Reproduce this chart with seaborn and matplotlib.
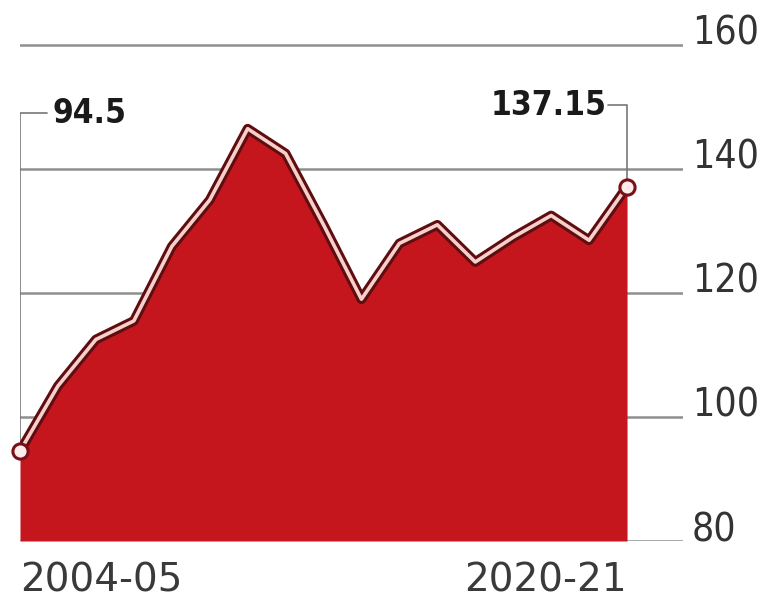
import matplotlib
matplotlib.use('Agg')
import pandas as pd
import matplotlib.pyplot as plt
import seaborn as sns

years = [f'{y}-{str(y + 1)[-2:]}' for y in range(2004, 2021)]
values = [94.5, 105.0, 112.5, 115.5, 127.5, 135.0, 146.5, 142.5, 131.0,
          119.0, 128.0, 131.0, 125.0, 129.0, 132.5, 128.5, 137.15]
y_ticks = [80, 100, 120, 140, 160]
x_labels = ['2004-05', '2020-21']

df = pd.DataFrame({'year': years, 'value': values})
df['idx'] = range(len(df))

sns.set_theme(style='white')
narrow = ['DejaVu Sans']

fig = plt.figure(figsize=(7.64, 6.02), dpi=100)
ax = fig.add_axes([20 / 764, 61 / 602, 663 / 764, 541 / 602])

red = '#c4161c'
dark = '#5e0d10'
grey = '#8f8f8f'

ax.fill_between(df['idx'], df['value'], 80, color=red, lw=0, zorder=2)
sns.lineplot(data=df, x='idx', y='value', color=dark, linewidth=7,
             ax=ax, zorder=3)
sns.lineplot(data=df, x='idx', y='value', color='#f7cfcb', linewidth=2.6,
             ax=ax, zorder=4)

ends = df.iloc[[0, -1]]
ax.scatter(ends['idx'], ends['value'], s=120, facecolor='#fdeceb',
           edgecolor='#7a1016', linewidth=2.2, zorder=5, clip_on=False)

# leader lines and labels for first / last values
first, last = df.iloc[0], df.iloc[-1]
lab_y1, lab_y2 = 149.0, 150.3
ax.plot([first['idx'], first['idx'], first['idx'] + 0.72],
        [first['value'], lab_y1, lab_y1], color='#777777', lw=1.2, zorder=1)
ax.text(first['idx'] + 0.85, lab_y1, f"{first['value']:g}", ha='left', va='center',
        fontsize=24, fontweight='bold', color='#1a1a1a', family=narrow,
        fontstretch='condensed')
ax.plot([last['idx'] - 0.5, last['idx'], last['idx']],
        [lab_y2, lab_y2, last['value']], color='#777777', lw=1.2, zorder=1)
ax.text(last['idx'] - 0.53, lab_y2, f"{last['value']:g}", ha='right', va='center',
        fontsize=24, fontweight='bold', color='#1a1a1a', family=narrow,
        fontstretch='condensed')

ax.set_xlim(0, 663 / 37.94)
ax.set_ylim(80, 80 + 541 / 6.2)

ax.yaxis.tick_right()
ax.set_yticks(y_ticks)
ax.set_yticklabels([str(t) for t in y_ticks], fontsize=28, color='#333333',
                   family=narrow, fontstretch='condensed')
for t in ax.get_yticklabels():
    t.set_verticalalignment('baseline')
ax.tick_params(axis='y', length=0, pad=6.5)

ax.set_xticks([0, len(df) - 1])
ax.set_xticklabels(x_labels, fontsize=28, color='#3a3a3a')
ax.get_xticklabels()[0].set_horizontalalignment('left')
ax.get_xticklabels()[1].set_horizontalalignment('right')
ax.tick_params(axis='x', length=0, pad=15)

ax.yaxis.grid(True, color=grey, linewidth=1.8)
ax.xaxis.grid(False)
ax.set_axisbelow(True)
for s in ax.spines.values():
    s.set_visible(False)
ax.set_xlabel('')
ax.set_ylabel('')
ax.patch.set_alpha(0)

fig.savefig('out.png', dpi=100)
plt.close()
